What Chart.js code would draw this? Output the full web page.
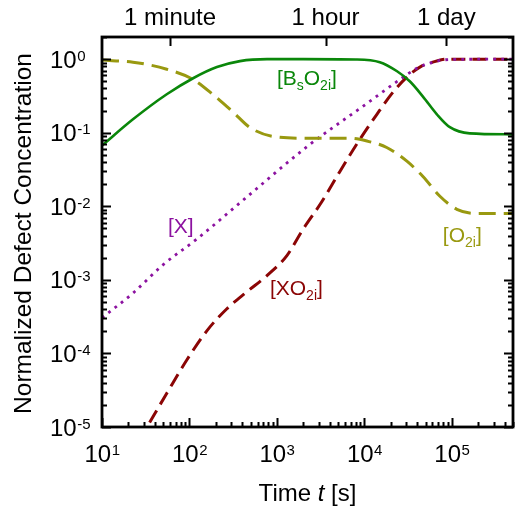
<!DOCTYPE html>
<html>
<head>
<meta charset="utf-8">
<script src="https://cdn.jsdelivr.net/npm/chart.js@4/dist/chart.umd.min.js"></script>
<style>
  html, body { margin: 0; padding: 0; background: #fff; }
  #wrap { width: 516px; height: 514px; }
</style>
</head>
<body>
<div id="wrap"><canvas id="myChart"></canvas></div>
<script>
// values (time in s, normalized concentration)
const bsTime = [10, 22.6, 55, 110, 206, 378, 770, 2000, 8000, 15000, 23400, 33000, 46700, 67400, 94800, 160000, 500000];
const bsConc = [0.067, 0.152, 0.333, 0.55, 0.78, 0.94, 1.0, 1.0, 0.99, 0.91, 0.69, 0.50, 0.31, 0.178, 0.119, 0.098, 0.095];

const o2Time = [10, 22.6, 55, 110, 186, 316, 490, 900, 2190, 6820, 10700, 18000, 30600, 46700, 73000, 114000, 193000, 500000];
const o2Conc = [0.97, 0.91, 0.73, 0.53, 0.33, 0.19, 0.118, 0.089, 0.084, 0.084, 0.077, 0.063, 0.041, 0.0254, 0.0137, 0.0091, 0.0080, 0.0080];

const xTime = [10, 22.6, 49.8, 122, 430, 2260, 10700, 25500, 39800, 60600, 94800, 500000];
const xConc = [3.05e-4, 6.6e-4, 1.6e-3, 3.6e-3, 0.0127, 0.066, 0.25, 0.53, 0.75, 0.91, 0.99, 1.0];

const xoTime = [20, 32.7, 55.3, 93.6, 158, 268, 454, 769, 1300, 1980, 3270, 5250, 8430, 13900, 21200, 30600, 43100, 60600, 87700, 500000];
const xoConc = [3.7e-6, 1e-5, 2.9e-5, 8.2e-5, 2.03e-4, 4.05e-4, 6.9e-4, 1.14e-3, 2.14e-3, 4.83e-3, 0.0116, 0.0298, 0.074, 0.178, 0.355, 0.57, 0.78, 0.91, 1.0, 1.0];

const xTickExps = [1, 2, 3, 4, 5];
const yTickExps = [0, -1, -2, -3, -4, -5];
const topTicks = [60, 3600, 86400];
const topLabels = ['1 minute', '1 hour', '1 day'];

const GREEN = '#0a870a';
const OLIVE = '#999910';
const PURPLE = '#8c12a0';
const DARKRED = '#8b0505';
const FONT = '"Liberation Sans", Arial, sans-serif';

// curve labels: [text, subscript?] parts, anchored at (time, conc)
const curveLabels = [
  { t: 1000, c: 0.45, color: GREEN, parts: [['[B', 0], ['s', 1], ['O', 0], ['2i', 1], [']', 0]] },
  { t: 56.8, c: 4.3e-3, color: PURPLE, parts: [['[X]', 0]] },
  { t: 832, c: 6.2e-4, color: DARKRED, parts: [['[XO', 0], ['2i', 1], [']', 0]] },
  { t: 78900, c: 3.26e-3, color: OLIVE, parts: [['[O', 0], ['2i', 1], [']', 0]] }
];

function pts(ts, cs) {
  return ts.map((t, i) => ({ x: t, y: cs[i] }));
}

function drawPow(ctx, exp, x, base, align) {
  ctx.font = '24px ' + FONT;
  const w1 = ctx.measureText('10').width;
  ctx.font = '15px ' + FONT;
  const w2 = ctx.measureText(String(exp)).width;
  let x0 = align === 'center' ? x - (w1 + w2) / 2 : x;
  ctx.textAlign = 'left';
  ctx.font = '24px ' + FONT;
  ctx.fillText('10', x0, base);
  ctx.font = '15px ' + FONT;
  ctx.fillText(String(exp), x0 + w1 + 0.5, base - 7);
}

const overlay = {
  id: 'overlay',
  afterDraw(chart) {
    const { ctx, chartArea: a, scales: { x, y } } = chart;
    ctx.save();
    ctx.strokeStyle = '#000';
    ctx.fillStyle = '#000';
    ctx.lineWidth = 2;
    ctx.beginPath();
    // bottom ticks
    for (let e = 1; e <= 5; e++) {
      for (let m = 1; m <= 9; m++) {
        const v = m * Math.pow(10, e);
        if (v > x.max) continue;
        const px = Math.round(x.getPixelForValue(v)) + 0.5;
        const len = m === 1 ? 9 : 5;
        ctx.moveTo(px, a.bottom); ctx.lineTo(px, a.bottom - len);
      }
    }
    // left and right ticks
    for (let e = -5; e <= 0; e++) {
      for (let m = 1; m <= 9; m++) {
        const v = m * Math.pow(10, e);
        if (v > y.max) continue;
        const py = Math.round(y.getPixelForValue(v)) + 0.5;
        const len = m === 1 ? 9 : 5;
        ctx.moveTo(a.left, py); ctx.lineTo(a.left + len, py);
        ctx.moveTo(a.right, py); ctx.lineTo(a.right - len, py);
      }
    }
    // top ticks
    topTicks.forEach(v => {
      const px = Math.round(x.getPixelForValue(v)) + 0.5;
      ctx.moveTo(px, a.top); ctx.lineTo(px, a.top + 9);
    });
    ctx.stroke();

    // frame
    ctx.lineWidth = 2.8;
    ctx.strokeRect(a.left, a.top, a.right - a.left, a.bottom - a.top);

    // tick labels
    ctx.textBaseline = 'alphabetic';
    xTickExps.forEach(e => drawPow(ctx, e, x.getPixelForValue(Math.pow(10, e)), 462, 'center'));
    yTickExps.forEach(e => drawPow(ctx, e, 50, y.getPixelForValue(Math.pow(10, e)) + 8.5, 'left'));

    ctx.font = '24px ' + FONT;
    ctx.textAlign = 'center';
    topTicks.forEach((v, i) => ctx.fillText(topLabels[i], x.getPixelForValue(v), 25));

    // axis titles
    ctx.font = '24px ' + FONT;
    const w1 = ctx.measureText('Time ').width;
    ctx.font = 'italic 24px ' + FONT;
    const w2 = ctx.measureText('t').width;
    ctx.font = '24px ' + FONT;
    const w3 = ctx.measureText(' [s]').width;
    let sx = (a.left + a.right) / 2 - (w1 + w2 + w3) / 2;
    ctx.textAlign = 'left';
    ctx.fillText('Time ', sx, 501);
    ctx.font = 'italic 24px ' + FONT;
    ctx.fillText('t', sx + w1, 501);
    ctx.font = '24px ' + FONT;
    ctx.fillText(' [s]', sx + w1 + w2, 501);

    ctx.save();
    ctx.translate(31, 233.5);
    ctx.rotate(-Math.PI / 2);
    ctx.textAlign = 'center';
    ctx.font = '24.5px ' + FONT;
    ctx.fillText('Normalized Defect Concentration', 0, 0);
    ctx.restore();

    // curve labels
    ctx.textAlign = 'left';
    curveLabels.forEach(l => {
      let cx = x.getPixelForValue(l.t);
      const cy = y.getPixelForValue(l.c);
      ctx.fillStyle = l.color;
      l.parts.forEach(([txt, sub]) => {
        ctx.font = (sub ? '14px ' : '21px ') + FONT;
        ctx.fillText(txt, cx, sub ? cy + 5 : cy);
        cx += ctx.measureText(txt).width;
      });
    });
    ctx.restore();
  }
};

const ctx = document.getElementById('myChart').getContext('2d');
const myChart = new Chart(ctx, {
  type: 'line',
  data: {
    datasets: [
      { label: '[BsO2i]', data: pts(bsTime, bsConc), borderColor: GREEN, borderWidth: 2.6 },
      { label: '[O2i]', data: pts(o2Time, o2Conc), borderColor: OLIVE, borderWidth: 3, borderDash: [17, 8] },
      { label: '[X]', data: pts(xTime, xConc), borderColor: PURPLE, borderWidth: 2.8, borderDash: [2.8, 5.2] },
      { label: '[XO2i]', data: pts(xoTime, xoConc), borderColor: DARKRED, borderWidth: 3, borderDash: [14, 7] }
    ]
  },
  options: {
    responsive: true,
    maintainAspectRatio: false,
    animation: false,
    layout: { padding: { left: 102, right: 3, top: 37, bottom: 87 } },
    elements: {
      point: { radius: 0, hoverRadius: 0 },
      line: { cubicInterpolationMode: 'monotone', fill: false }
    },
    plugins: { legend: { display: false }, tooltip: { enabled: false } },
    scales: {
      x: { type: 'logarithmic', min: 10, max: 500000, display: false },
      y: { type: 'logarithmic', min: 1e-5, max: 2, display: false }
    }
  },
  plugins: [overlay]
});
</script>
</body>
</html>
